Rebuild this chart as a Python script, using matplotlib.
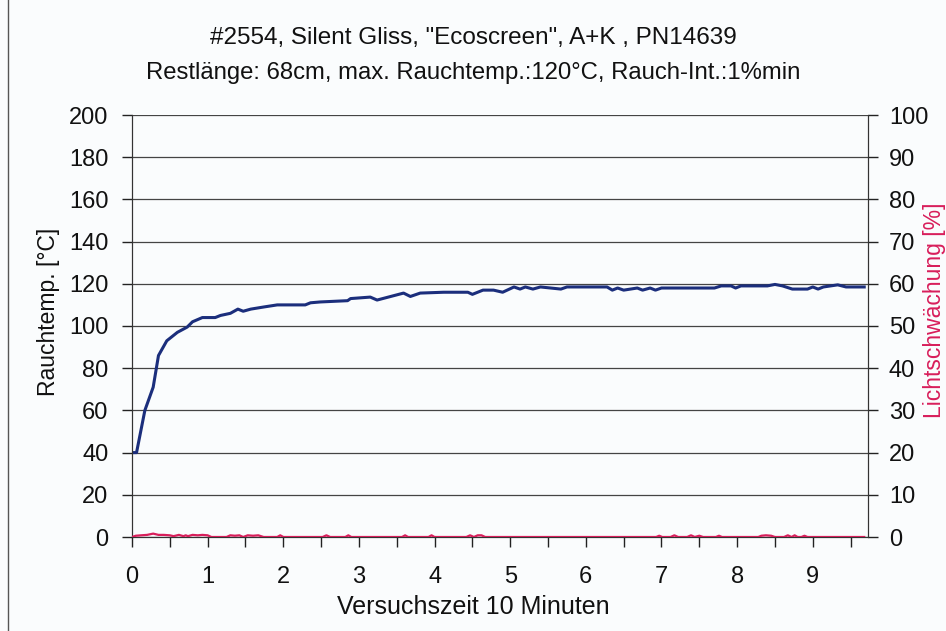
import matplotlib
matplotlib.use("Agg")
import matplotlib.pyplot as plt
from matplotlib.lines import Line2D

plt.rcParams['font.family'] = ['Liberation Sans', 'DejaVu Sans']

title_lines = ['#2554, Silent Gliss, "Ecoscreen", A+K , PN14639',
               'Restlänge: 68cm, max. Rauchtemp.:120°C, Rauch-Int.:1%min']
x_label = 'Versuchszeit 10 Minuten'
y_label_left = 'Rauchtemp. [°C]'
y_label_right = 'Lichtschwächung [%]'

# Rauchtemperatur (°C) over time (units of the x axis)
temp_t = [0, 0.06, 0.17, 0.28, 0.35, 0.46, 0.6, 0.73, 0.8, 0.93, 1.1, 1.17, 1.3, 1.4,
          1.47, 1.57, 1.74, 1.92, 2.29, 2.36, 2.49, 2.85, 2.89, 3.15, 3.24, 3.59, 3.68,
          3.81, 4.12, 4.44, 4.5, 4.64, 4.78, 4.9, 5.05, 5.13, 5.2, 5.3, 5.4, 5.67, 5.75,
          6.28, 6.35, 6.42, 6.5, 6.68, 6.75, 6.85, 6.92, 7.0, 7.7, 7.79, 7.92, 7.98,
          8.05, 8.4, 8.5, 8.6, 8.73, 8.93, 9.0, 9.07, 9.14, 9.33, 9.44, 9.68]
temp_v = [40, 40, 60, 71, 86, 93, 97, 99.5, 102, 104, 104, 105, 106, 108,
          107, 108, 109, 110, 110, 111, 111.4, 112, 113, 113.7, 112.3, 115.6, 114,
          115.6, 116, 116, 115, 117, 117, 116, 118.5, 117.5, 118.5, 117.5, 118.5, 117.5, 118.5,
          118.5, 117, 118, 117, 118, 117, 118, 117, 118, 118, 119, 119, 118,
          119, 119, 119.7, 119, 117.5, 117.5, 118.5, 117.5, 118.5, 119.5, 118.5, 118.5]

# Lichtschwächung (%) over time
light_t = [0, 0.05, 0.12, 0.2, 0.28, 0.35, 0.42, 0.5, 0.55, 0.62, 0.68, 0.71, 0.74, 0.8,
           0.87, 0.93, 1.0, 1.05, 1.25, 1.3, 1.36, 1.42, 1.47, 1.53, 1.6, 1.67, 1.74, 1.8,
           1.92, 1.96, 2.0, 2.52, 2.57, 2.62, 2.82, 2.86, 2.9, 3.57, 3.61, 3.65, 3.92, 3.96,
           4.0, 4.42, 4.47, 4.52, 4.57, 4.62, 4.67, 6.93, 6.97, 7.01, 7.12, 7.17, 7.22,
           7.34, 7.39, 7.44, 7.5, 7.55, 7.72, 7.76, 7.8, 8.28, 8.32, 8.38, 8.45, 8.5,
           8.62, 8.67, 8.72, 8.76, 8.8, 8.85, 8.89, 8.93, 9.68]
light_v = [0, 0.3, 0.4, 0.5, 0.8, 0.5, 0.5, 0.4, 0.2, 0.5, 0.2, 0.4, 0.2, 0.5,
           0.4, 0.5, 0.4, 0, 0, 0.4, 0.3, 0.4, 0, 0.4, 0.3, 0.4, 0, 0,
           0, 0.4, 0, 0, 0.4, 0, 0, 0.4, 0, 0, 0.4, 0, 0, 0.4,
           0, 0, 0.4, 0, 0.4, 0.4, 0, 0, 0.3, 0, 0, 0.4, 0,
           0, 0.4, 0, 0.3, 0, 0, 0.3, 0, 0, 0.3, 0.4, 0.3, 0,
           0, 0.4, 0, 0.4, 0, 0, 0.3, 0, 0]

left_ticks = list(range(0, 201, 20))
right_ticks = list(range(0, 101, 10))
x_ticks_major = list(range(0, 10))

blue = '#1b2e7c'
red = '#d81e5b'
bg = '#fafcfd'

fig = plt.figure(figsize=(9.46, 6.31), dpi=100, facecolor=bg)
ax = fig.add_axes([132/946, 1 - 537/631, (868-132)/946, (537-115)/631])
ax.set_facecolor(bg)
ax2 = ax.twinx()

ax.set_xlim(0, 9.73)
ax.set_ylim(0, 200)
ax2.set_ylim(0, 100)

for t in left_ticks:
    ax.axhline(t, color='#444444', lw=0.9, zorder=1)

ax.plot(temp_t, temp_v, color=blue, lw=2.2, zorder=3)
ax2.plot(light_t, light_v, color=red, lw=1.6, zorder=3)

ax.set_yticks(left_ticks)
ax2.set_yticks(right_ticks)
ax.set_xticks(x_ticks_major)
ax.set_xticks([i + 0.5 for i in range(0, 10)], minor=True)

ax.tick_params(axis='y', direction='out', length=7, width=1, labelsize=17, pad=10, colors='#222222', labelcolor='#111111')
ax2.tick_params(axis='y', direction='out', length=7, width=1, labelsize=17, pad=8, colors='#222222', labelcolor='#111111')
ax.tick_params(axis='x', which='both', direction='out', length=7, width=1, labelsize=17, pad=14, colors='#222222', labelcolor='#111111')
ax.tick_params(axis='x', which='minor', labelbottom=False)

for a in (ax, ax2):
    a.spines['top'].set_visible(False)
    a.spines['left'].set_color('#333333')
    a.spines['right'].set_color('#333333')
    a.spines['bottom'].set_color('#333333')

fig.text(0.5, 1 - 607/631, x_label, ha='center', va='center', fontsize=18, color='#111111')
fig.text(48/946, 1 - 312/631, y_label_left, ha='center', va='center', rotation=90, fontsize=16.5, color='#111111')
fig.text(934/946, 1 - 310/631, y_label_right, ha='center', va='center', rotation=90, fontsize=16.5, color=red)

fig.text(0.5, 1 - 38/631, title_lines[0], ha='center', va='center', fontsize=17.5, color='#111111')
fig.text(0.5, 1 - 73/631, title_lines[1], ha='center', va='center', fontsize=17.2, color='#111111')

fig.add_artist(Line2D([8/946, 8/946], [0, 1], transform=fig.transFigure, color='#555555', lw=1))

fig.savefig('out.png', dpi=100, facecolor=bg)
